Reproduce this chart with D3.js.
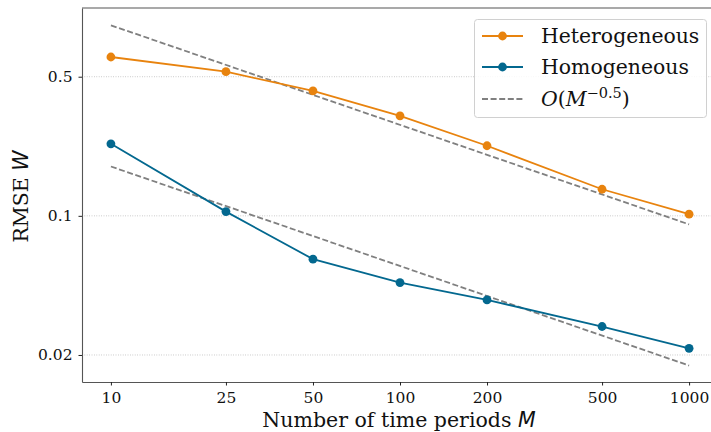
<!DOCTYPE html>
<html>
<head>
<meta charset="utf-8">
<script src="https://cdn.jsdelivr.net/npm/d3@7.9.0/dist/d3.min.js"></script>
<style>
  body { margin: 0; background: #fff; }
  svg text { font-family: "DejaVu Serif", serif; fill: #111; }
  .math { font-family: "DejaVu Sans", sans-serif; font-style: italic; }
</style>
</head>
<body>
<svg id="chart" width="711" height="432"></svg>
<script>
const periods = [10, 25, 50, 100, 200, 500, 1000];
const heterogeneous = [0.628, 0.530, 0.424, 0.318, 0.225, 0.136, 0.102];
const homogeneous = [0.230, 0.105, 0.0606, 0.0462, 0.0378, 0.0278, 0.0216];
// O(M^-0.5) guide lines, values at M = 10 and M = 1000
const guideEnds = [10, 1000];
const guideUpper = [0.906, 0.0906];
const guideLower = [0.177, 0.0177];
const yTicks = [0.02, 0.1, 0.5];

const orange = '#e8830e';
const blue = '#03688f';

const margin = { top: 8, right: -7, bottom: 50, left: 82 };
const width = 711, height = 432;

const svg = d3.select('#chart');

const x = d3.scaleLog()
  .domain([Math.pow(10, 0.9), Math.pow(10, 3.1)])
  .range([margin.left, width - margin.right]);

const y = d3.scaleLog()
  .domain([0.01463, 1.107])
  .range([height - margin.bottom, margin.top]);

// grid
svg.append('g')
  .selectAll('line')
  .data(yTicks)
  .join('line')
  .attr('x1', margin.left)
  .attr('x2', width - margin.right)
  .attr('y1', (d) => y(d))
  .attr('y2', (d) => y(d))
  .attr('stroke', '#b0b0b0')
  .attr('stroke-width', 0.8)
  .attr('stroke-dasharray', '0.8,1.6');

// axes
const xAxis = d3.axisBottom(x)
  .tickValues(periods)
  .tickFormat(d3.format('d'))
  .tickSizeInner(3.5)
  .tickSizeOuter(0)
  .tickPadding(6);

const yAxis = d3.axisLeft(y)
  .tickValues(yTicks)
  .tickFormat((d) => String(d))
  .tickSizeInner(3.5)
  .tickSizeOuter(0)
  .tickPadding(6);

const gx = svg.append('g')
  .attr('transform', `translate(0,${height - margin.bottom})`)
  .call(xAxis);
const gy = svg.append('g')
  .attr('transform', `translate(${margin.left},0)`)
  .call(yAxis);

[gx, gy].forEach((g) => {
  g.select('.domain').attr('stroke', '#555').attr('stroke-width', 1.1);
  g.selectAll('.tick line').attr('stroke', '#222');
  g.selectAll('.tick text')
    .attr('font-size', 15.5)
    .attr('font-family', '"DejaVu Serif", serif')
    .attr('fill', '#111');
});

// top spine
svg.append('line')
  .attr('x1', margin.left).attr('x2', width - margin.right)
  .attr('y1', margin.top).attr('y2', margin.top)
  .attr('stroke', '#555').attr('stroke-width', 1.1);

// guide lines
const line = d3.line()
  .x((d) => x(d[0]))
  .y((d) => y(d[1]));

[guideUpper, guideLower].forEach((g) => {
  svg.append('path')
    .attr('d', line(guideEnds.map((m, i) => [m, g[i]])))
    .attr('fill', 'none')
    .attr('stroke', '#808080')
    .attr('stroke-width', 1.8)
    .attr('stroke-dasharray', '6,2.6');
});

// series
const series = [
  { name: 'Heterogeneous', values: heterogeneous, color: orange },
  { name: 'Homogeneous', values: homogeneous, color: blue }
];

series.forEach((s) => {
  const pts = periods.map((m, i) => [m, s.values[i]]);
  svg.append('path')
    .attr('d', line(pts))
    .attr('fill', 'none')
    .attr('stroke', s.color)
    .attr('stroke-width', 1.8);
  svg.append('g')
    .selectAll('circle')
    .data(pts)
    .join('circle')
    .attr('cx', (d) => x(d[0]))
    .attr('cy', (d) => y(d[1]))
    .attr('r', 4.4)
    .attr('fill', s.color);
});

// axis labels
const xl = svg.append('text')
  .attr('x', 399)
  .attr('y', 427)
  .attr('text-anchor', 'middle')
  .attr('font-size', 20.5);
xl.append('tspan').text('Number of time periods ');
xl.append('tspan').attr('class', 'math').text('M');

const yl = svg.append('text')
  .attr('transform', 'translate(28,196.5) rotate(-90)')
  .attr('text-anchor', 'middle')
  .attr('font-size', 20.5);
yl.append('tspan').text('RMSE ');
yl.append('tspan').attr('class', 'math').text('W');

// legend
const legend = svg.append('g');
legend.append('rect')
  .attr('x', 474.5).attr('y', 19.5)
  .attr('width', 232).attr('height', 98)
  .attr('rx', 3)
  .attr('fill', 'rgba(255,255,255,0.85)')
  .attr('stroke', '#d0d0d0');

const rows = [36, 67, 99];
series.forEach((s, i) => {
  legend.append('line')
    .attr('x1', 482).attr('x2', 523)
    .attr('y1', rows[i]).attr('y2', rows[i])
    .attr('stroke', s.color).attr('stroke-width', 1.8);
  legend.append('circle')
    .attr('cx', 502.5).attr('cy', rows[i]).attr('r', 4.4)
    .attr('fill', s.color);
  legend.append('text')
    .attr('x', 541).attr('y', rows[i] + 7)
    .attr('font-size', 20.4)
    .text(s.name);
});
legend.append('line')
  .attr('x1', 482).attr('x2', 523)
  .attr('y1', rows[2]).attr('y2', rows[2])
  .attr('stroke', '#808080').attr('stroke-width', 1.8)
  .attr('stroke-dasharray', '6,2.6');
const lt = legend.append('text')
  .attr('x', 541).attr('y', rows[2] + 7)
  .attr('font-size', 20.4)
  .attr('font-family', '"DejaVu Sans", sans-serif');
lt.append('tspan').attr('font-style', 'italic').text('O');
lt.append('tspan').text('(');
lt.append('tspan').attr('font-style', 'italic').text('M');
lt.append('tspan').attr('font-size', 14.5).attr('dy', -8).text('\u22120.5');
lt.append('tspan').attr('dy', 8).text(')');
</script>
</body>
</html>
